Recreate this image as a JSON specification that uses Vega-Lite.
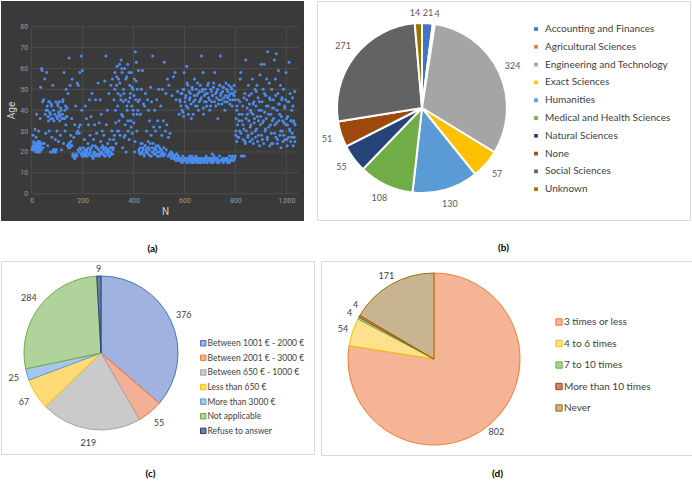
{
  "$schema": "https://vega.github.io/schema/vega-lite/v6.json",
  "padding": 0,
  "background": "white",
  "config": {"font": "Lato", "view": {"stroke": null}},
  "spacing": 3,
  "resolve": {"scale": {"color": "independent", "fill": "independent", "stroke": "independent", "theta": "independent", "x": "independent", "y": "independent"}, "legend": {"color": "independent", "fill": "independent", "stroke": "independent"}},
  "vconcat": [
    {
      "spacing": 12,
      "resolve": {"scale": {"color": "independent", "fill": "independent", "stroke": "independent", "theta": "independent", "x": "independent", "y": "independent"}, "legend": {"color": "independent", "fill": "independent", "stroke": "independent"}},
      "hconcat": [
        {
          "width": 303,
          "height": 220,
          "view": {"fill": "#3a3a3a", "stroke": null},
          "title": {"text": "(a)", "orient": "bottom", "offset": 23, "fontSize": 10, "fontWeight": "bold", "font": "Lato", "color": "#000000"},
          "layer": [
            {
              "data": {"values": [{"g": 0}, {"g": 10}, {"g": 20}, {"g": 30}, {"g": 40}, {"g": 50}, {"g": 60}, {"g": 70}, {"g": 80}]},
              "mark": {"type": "rule", "color": "#4c4c4c", "strokeWidth": 1},
              "encoding": {
                "y": {"field": "g", "type": "quantitative", "scale": {"domain": [-13.08, 92.31], "nice": false, "zero": false},
                  "axis": {"values": [0, 10, 20, 30, 40, 50, 60, 70, 80], "offset": -30.7, "grid": false, "ticks": false, "domain": false, "labelColor": "#9a9a9a", "labelFontSize": 7, "labelFont": "Roboto", "labelPadding": 4, "title": "Age", "titleColor": "#d0d0d0", "titleFontSize": 10, "titleFontWeight": "normal", "titleFont": "Roboto", "titleY": 109, "titlePadding": 3}},
                "x": {"datum": 0, "type": "quantitative", "scale": {"domain": [-120.6, 1069.5], "nice": false, "zero": false},
                  "axis": {"values": [0, 200, 400, 600, 800, 1000], "offset": -27.3, "grid": false, "ticks": false, "domain": false, "labelColor": "#9a9a9a", "labelFontSize": 7, "labelFont": "Roboto", "labelPadding": 3, "title": "N", "titleColor": "#d0d0d0", "titleFontSize": 10, "titleFontWeight": "normal", "titleFont": "Roboto", "titleX": 164, "titlePadding": 3}},
                "x2": {"datum": 1050}
              }
            },
            {
              "data": {"values": [{"v": 0}, {"v": 200}, {"v": 400}, {"v": 600}, {"v": 800}, {"v": 1000}]},
              "mark": {"type": "rule", "color": "#4c4c4c", "strokeWidth": 1},
              "encoding": {
                "x": {"field": "v", "type": "quantitative", "scale": {"domain": [-120.6, 1069.5], "nice": false, "zero": false},
                  "axis": {"values": [0, 200, 400, 600, 800, 1000], "offset": -27.3, "grid": false, "ticks": false, "domain": false, "labelColor": "#9a9a9a", "labelFontSize": 7, "labelFont": "Roboto", "labelPadding": 3, "title": "N", "titleColor": "#d0d0d0", "titleFontSize": 10, "titleFontWeight": "normal", "titleFont": "Roboto", "titleX": 164, "titlePadding": 3}},
                "y": {"datum": 0, "type": "quantitative", "scale": {"domain": [-13.08, 92.31], "nice": false, "zero": false},
                  "axis": {"values": [0, 10, 20, 30, 40, 50, 60, 70, 80], "offset": -30.7, "grid": false, "ticks": false, "domain": false, "labelColor": "#9a9a9a", "labelFontSize": 7, "labelFont": "Roboto", "labelPadding": 4, "title": "Age", "titleColor": "#d0d0d0", "titleFontSize": 10, "titleFontWeight": "normal", "titleFont": "Roboto", "titleY": 109, "titlePadding": 3}},
                "y2": {"datum": 80}
              }
            },
            {
              "data": {"values": [
{"n":1,"a":21},{"n":3,"a":22},{"n":5,"a":28},{"n":7,"a":21},{"n":9,"a":24},{"n":11,"a":23},{"n":13,"a":31},{"n":15,"a":22},{"n":17,"a":27},{"n":19,"a":38},
{"n":21,"a":22},{"n":23,"a":24},{"n":25,"a":20},{"n":27,"a":30},{"n":29,"a":23},{"n":31,"a":25},{"n":33,"a":36},{"n":35,"a":51},{"n":37,"a":22},{"n":39,"a":60},
{"n":41,"a":59},{"n":43,"a":44},{"n":45,"a":22},{"n":47,"a":45},{"n":49,"a":24},{"n":51,"a":55},{"n":53,"a":38},{"n":55,"a":29},{"n":57,"a":40},{"n":59,"a":58},
{"n":61,"a":42},{"n":63,"a":23},{"n":65,"a":37},{"n":67,"a":44},{"n":69,"a":30},{"n":71,"a":39},{"n":73,"a":20},{"n":75,"a":36},{"n":77,"a":43},{"n":79,"a":27},
{"n":81,"a":20},{"n":83,"a":52},{"n":85,"a":21},{"n":87,"a":35},{"n":89,"a":20},{"n":91,"a":38},{"n":93,"a":26},{"n":95,"a":44},{"n":97,"a":21},{"n":99,"a":30},
{"n":101,"a":36},{"n":103,"a":42},{"n":105,"a":25},{"n":107,"a":38},{"n":109,"a":44},{"n":111,"a":37},{"n":113,"a":28},{"n":115,"a":40},{"n":117,"a":21},{"n":119,"a":36},
{"n":121,"a":38},{"n":123,"a":45},{"n":125,"a":24},{"n":127,"a":58},{"n":129,"a":36},{"n":131,"a":30},{"n":133,"a":42},{"n":135,"a":50},{"n":137,"a":37},{"n":139,"a":41},
{"n":141,"a":23},{"n":143,"a":48},{"n":145,"a":22},{"n":147,"a":65},{"n":149,"a":24},{"n":151,"a":52},{"n":153,"a":28},{"n":155,"a":23},{"n":157,"a":36},{"n":159,"a":55},
{"n":161,"a":18},{"n":163,"a":19},{"n":165,"a":27},{"n":167,"a":17},{"n":169,"a":33},{"n":171,"a":18},{"n":173,"a":42},{"n":175,"a":19},{"n":177,"a":29},{"n":179,"a":53},
{"n":181,"a":30},{"n":183,"a":52},{"n":185,"a":32},{"n":187,"a":29},{"n":189,"a":58},{"n":191,"a":33},{"n":193,"a":21},{"n":195,"a":66},{"n":197,"a":40},{"n":199,"a":59},
{"n":201,"a":19},{"n":203,"a":22},{"n":205,"a":18},{"n":207,"a":26},{"n":209,"a":20},{"n":211,"a":42},{"n":213,"a":19},{"n":215,"a":36},{"n":217,"a":21},{"n":219,"a":18},
{"n":221,"a":24},{"n":223,"a":33},{"n":225,"a":19},{"n":227,"a":45},{"n":229,"a":28},{"n":231,"a":20},{"n":233,"a":37},{"n":235,"a":22},{"n":237,"a":48},{"n":239,"a":18},
{"n":241,"a":17},{"n":243,"a":26},{"n":245,"a":20},{"n":247,"a":33},{"n":249,"a":23},{"n":251,"a":45},{"n":253,"a":19},{"n":255,"a":29},{"n":257,"a":22},{"n":259,"a":18},
{"n":261,"a":53},{"n":263,"a":21},{"n":265,"a":34},{"n":267,"a":19},{"n":269,"a":45},{"n":271,"a":25},{"n":273,"a":38},{"n":275,"a":20},{"n":277,"a":30},{"n":279,"a":23},
{"n":281,"a":19},{"n":283,"a":28},{"n":285,"a":22},{"n":287,"a":54},{"n":289,"a":18},{"n":291,"a":66},{"n":293,"a":33},{"n":295,"a":21},{"n":297,"a":40},{"n":299,"a":24},
{"n":301,"a":20},{"n":303,"a":48},{"n":305,"a":18},{"n":307,"a":26},{"n":309,"a":22},{"n":311,"a":52},{"n":313,"a":19},{"n":315,"a":30},{"n":317,"a":55},{"n":319,"a":21},
{"n":321,"a":22},{"n":323,"a":45},{"n":325,"a":28},{"n":327,"a":58},{"n":329,"a":40},{"n":331,"a":24},{"n":333,"a":52},{"n":335,"a":61},{"n":337,"a":30},{"n":339,"a":48},
{"n":341,"a":55},{"n":343,"a":35},{"n":345,"a":62},{"n":347,"a":28},{"n":349,"a":47},{"n":351,"a":64},{"n":353,"a":38},{"n":355,"a":58},{"n":357,"a":22},{"n":359,"a":44},
{"n":361,"a":50},{"n":363,"a":27},{"n":365,"a":60},{"n":367,"a":33},{"n":369,"a":45},{"n":371,"a":20},{"n":373,"a":56},{"n":375,"a":40},{"n":377,"a":62},{"n":379,"a":30},
{"n":381,"a":44},{"n":383,"a":26},{"n":385,"a":52},{"n":387,"a":48},{"n":389,"a":35},{"n":391,"a":58},{"n":393,"a":42},{"n":395,"a":29},{"n":397,"a":50},{"n":399,"a":38},
{"n":401,"a":34},{"n":403,"a":55},{"n":405,"a":20},{"n":407,"a":68},{"n":409,"a":45},{"n":411,"a":63},{"n":413,"a":30},{"n":415,"a":50},{"n":417,"a":40},{"n":419,"a":59},
{"n":421,"a":21},{"n":423,"a":45},{"n":425,"a":19},{"n":427,"a":38},{"n":429,"a":24},{"n":431,"a":50},{"n":433,"a":20},{"n":435,"a":59},{"n":437,"a":22},{"n":439,"a":43},
{"n":441,"a":19},{"n":443,"a":42},{"n":445,"a":23},{"n":447,"a":48},{"n":449,"a":21},{"n":451,"a":30},{"n":453,"a":20},{"n":455,"a":45},{"n":457,"a":25},{"n":459,"a":40},
{"n":461,"a":22},{"n":463,"a":35},{"n":465,"a":18},{"n":467,"a":51},{"n":469,"a":28},{"n":471,"a":44},{"n":473,"a":20},{"n":475,"a":66},{"n":477,"a":24},{"n":479,"a":32},
{"n":481,"a":19},{"n":483,"a":40},{"n":485,"a":22},{"n":487,"a":30},{"n":489,"a":21},{"n":491,"a":45},{"n":493,"a":18},{"n":495,"a":35},{"n":497,"a":23},{"n":499,"a":50},
{"n":501,"a":20},{"n":503,"a":32},{"n":505,"a":18},{"n":507,"a":42},{"n":509,"a":21},{"n":511,"a":28},{"n":513,"a":50},{"n":515,"a":19},{"n":517,"a":35},{"n":519,"a":22},
{"n":521,"a":63},{"n":523,"a":19},{"n":525,"a":30},{"n":527,"a":48},{"n":529,"a":21},{"n":531,"a":33},{"n":533,"a":55},{"n":535,"a":18},{"n":537,"a":27},{"n":539,"a":52},
{"n":541,"a":18},{"n":543,"a":29},{"n":545,"a":19},{"n":547,"a":20},{"n":549,"a":17},{"n":551,"a":47},{"n":553,"a":19},{"n":555,"a":18},{"n":557,"a":56},{"n":559,"a":17},
{"n":561,"a":18},{"n":563,"a":58},{"n":565,"a":16},{"n":567,"a":45},{"n":569,"a":19},{"n":571,"a":17},{"n":573,"a":49},{"n":575,"a":18},{"n":577,"a":16},{"n":579,"a":38},
{"n":581,"a":17},{"n":583,"a":44},{"n":585,"a":16},{"n":587,"a":48},{"n":589,"a":15},{"n":591,"a":40},{"n":593,"a":18},{"n":595,"a":50},{"n":597,"a":37},{"n":599,"a":58},
{"n":601,"a":16},{"n":603,"a":46},{"n":605,"a":17},{"n":607,"a":42},{"n":609,"a":61},{"n":611,"a":15},{"n":613,"a":52},{"n":615,"a":38},{"n":617,"a":16},{"n":619,"a":45},
{"n":621,"a":17},{"n":623,"a":48},{"n":625,"a":16},{"n":627,"a":36},{"n":629,"a":18},{"n":631,"a":50},{"n":633,"a":15},{"n":635,"a":44},{"n":637,"a":17},{"n":639,"a":55},
{"n":641,"a":16},{"n":643,"a":42},{"n":645,"a":18},{"n":647,"a":47},{"n":649,"a":15},{"n":651,"a":53},{"n":653,"a":17},{"n":655,"a":40},{"n":657,"a":16},{"n":659,"a":49},
{"n":661,"a":15},{"n":663,"a":45},{"n":665,"a":17},{"n":667,"a":66},{"n":669,"a":16},{"n":671,"a":50},{"n":673,"a":58},{"n":675,"a":38},{"n":677,"a":17},{"n":679,"a":44},
{"n":681,"a":16},{"n":683,"a":48},{"n":685,"a":18},{"n":687,"a":42},{"n":689,"a":15},{"n":691,"a":52},{"n":693,"a":17},{"n":695,"a":46},{"n":697,"a":16},{"n":699,"a":40},
{"n":701,"a":17},{"n":703,"a":50},{"n":705,"a":16},{"n":707,"a":44},{"n":709,"a":19},{"n":711,"a":47},{"n":713,"a":15},{"n":715,"a":53},{"n":717,"a":17},{"n":719,"a":58},
{"n":721,"a":16},{"n":723,"a":42},{"n":725,"a":17},{"n":727,"a":49},{"n":729,"a":15},{"n":731,"a":36},{"n":733,"a":16},{"n":735,"a":45},{"n":737,"a":18},{"n":739,"a":52},
{"n":741,"a":66},{"n":743,"a":48},{"n":745,"a":16},{"n":747,"a":43},{"n":749,"a":17},{"n":751,"a":51},{"n":753,"a":15},{"n":755,"a":46},{"n":757,"a":16},{"n":759,"a":40},
{"n":761,"a":17},{"n":763,"a":53},{"n":765,"a":16},{"n":767,"a":44},{"n":769,"a":15},{"n":771,"a":49},{"n":773,"a":16},{"n":775,"a":47},{"n":777,"a":18},{"n":779,"a":45},
{"n":781,"a":16},{"n":783,"a":51},{"n":785,"a":17},{"n":787,"a":42},{"n":789,"a":18},{"n":791,"a":48},{"n":793,"a":16},{"n":795,"a":52},{"n":797,"a":17},{"n":799,"a":45},
{"n":801,"a":28},{"n":803,"a":36},{"n":805,"a":25},{"n":807,"a":42},{"n":809,"a":33},{"n":811,"a":45},{"n":813,"a":27},{"n":815,"a":38},{"n":817,"a":30},{"n":819,"a":55},
{"n":821,"a":58},{"n":823,"a":18},{"n":825,"a":35},{"n":827,"a":18},{"n":829,"a":42},{"n":831,"a":26},{"n":833,"a":31},{"n":835,"a":18},{"n":837,"a":48},{"n":839,"a":24},
{"n":841,"a":64},{"n":843,"a":30},{"n":845,"a":45},{"n":847,"a":38},{"n":849,"a":27},{"n":851,"a":52},{"n":853,"a":35},{"n":855,"a":43},{"n":857,"a":25},{"n":859,"a":40},
{"n":861,"a":33},{"n":863,"a":48},{"n":865,"a":29},{"n":867,"a":55},{"n":869,"a":38},{"n":871,"a":24},{"n":873,"a":44},{"n":875,"a":36},{"n":877,"a":50},{"n":879,"a":27},
{"n":881,"a":42},{"n":883,"a":31},{"n":885,"a":52},{"n":887,"a":25},{"n":889,"a":46},{"n":891,"a":35},{"n":893,"a":40},{"n":895,"a":23},{"n":897,"a":57},{"n":899,"a":37},
{"n":901,"a":62},{"n":903,"a":28},{"n":905,"a":44},{"n":907,"a":34},{"n":909,"a":50},{"n":911,"a":24},{"n":913,"a":62},{"n":915,"a":39},{"n":917,"a":30},{"n":919,"a":47},
{"n":921,"a":36},{"n":923,"a":55},{"n":925,"a":26},{"n":927,"a":68},{"n":929,"a":42},{"n":931,"a":32},{"n":933,"a":53},{"n":935,"a":23},{"n":937,"a":45},{"n":939,"a":38},
{"n":941,"a":29},{"n":943,"a":50},{"n":945,"a":35},{"n":947,"a":24},{"n":949,"a":45},{"n":951,"a":41},{"n":953,"a":64},{"n":955,"a":33},{"n":957,"a":55},{"n":959,"a":27},
{"n":961,"a":67},{"n":963,"a":40},{"n":965,"a":24},{"n":967,"a":48},{"n":969,"a":59},{"n":971,"a":35},{"n":973,"a":43},{"n":975,"a":28},{"n":977,"a":52},{"n":979,"a":22},
{"n":981,"a":37},{"n":983,"a":46},{"n":985,"a":30},{"n":987,"a":25},{"n":989,"a":50},{"n":991,"a":34},{"n":993,"a":42},{"n":995,"a":26},{"n":997,"a":45},{"n":999,"a":58},
{"n":1001,"a":36},{"n":1003,"a":23},{"n":1005,"a":33},{"n":1007,"a":44},{"n":1009,"a":27},{"n":1011,"a":63},{"n":1013,"a":31},{"n":1015,"a":48},{"n":1017,"a":25},{"n":1019,"a":35},
{"n":1021,"a":40},{"n":1023,"a":29},{"n":1025,"a":46},{"n":1027,"a":23},{"n":1029,"a":35},{"n":1031,"a":27},{"n":1033,"a":49},{"n":1035,"a":33},
{"n":2,"a":22},{"n":4,"a":21},{"n":6,"a":23},{"n":8,"a":25},{"n":10,"a":21},{"n":12,"a":22},{"n":14,"a":24},{"n":16,"a":20},{"n":18,"a":22},{"n":20,"a":23},
{"n":22,"a":21},{"n":24,"a":25},{"n":26,"a":22},{"n":28,"a":21},{"n":30,"a":24},{"n":32,"a":20},{"n":34,"a":23},{"n":36,"a":22},{"n":38,"a":21},{"n":40,"a":24},
{"n":62,"a":40},{"n":66,"a":35},{"n":70,"a":44},{"n":74,"a":38},{"n":78,"a":42},{"n":82,"a":36},{"n":86,"a":40},{"n":90,"a":21},{"n":94,"a":20},{"n":98,"a":37},
{"n":102,"a":43},{"n":106,"a":39},{"n":110,"a":35},{"n":114,"a":41},{"n":118,"a":38},{"n":122,"a":44},{"n":126,"a":36},{"n":130,"a":40},{"n":134,"a":33},{"n":138,"a":37},
{"n":142,"a":23},{"n":146,"a":24},{"n":150,"a":22},{"n":154,"a":25},{"n":158,"a":23},
{"n":162,"a":19},{"n":166,"a":18},{"n":170,"a":17},{"n":174,"a":19},{"n":178,"a":18},{"n":182,"a":21},{"n":186,"a":20},{"n":190,"a":22},{"n":194,"a":19},{"n":198,"a":18},
{"n":202,"a":20},{"n":206,"a":19},{"n":210,"a":21},{"n":214,"a":18},{"n":218,"a":20},{"n":222,"a":22},{"n":226,"a":19},{"n":230,"a":21},{"n":234,"a":18},{"n":238,"a":23},
{"n":242,"a":19},{"n":246,"a":20},{"n":250,"a":18},{"n":254,"a":22},{"n":258,"a":19},{"n":262,"a":21},{"n":266,"a":18},{"n":270,"a":20},{"n":274,"a":22},{"n":278,"a":19},
{"n":282,"a":21},{"n":286,"a":18},{"n":290,"a":20},{"n":294,"a":22},{"n":298,"a":19},{"n":302,"a":21},{"n":306,"a":18},{"n":310,"a":20},{"n":314,"a":22},{"n":318,"a":19},
{"n":322,"a":26},{"n":326,"a":50},{"n":330,"a":34},{"n":334,"a":56},{"n":338,"a":42},{"n":342,"a":30},{"n":346,"a":53},{"n":350,"a":45},{"n":354,"a":60},{"n":358,"a":37},
{"n":362,"a":48},{"n":366,"a":28},{"n":370,"a":55},{"n":374,"a":42},{"n":378,"a":35},{"n":382,"a":58},{"n":386,"a":46},{"n":390,"a":32},{"n":394,"a":51},{"n":398,"a":40},
{"n":402,"a":47},{"n":406,"a":25},{"n":410,"a":54},{"n":414,"a":38},{"n":418,"a":44},
{"n":422,"a":20},{"n":426,"a":22},{"n":430,"a":19},{"n":434,"a":24},{"n":438,"a":21},{"n":442,"a":18},{"n":446,"a":23},{"n":450,"a":20},{"n":454,"a":22},{"n":458,"a":19},
{"n":462,"a":21},{"n":466,"a":24},{"n":470,"a":18},{"n":474,"a":22},{"n":478,"a":20},{"n":482,"a":21},{"n":486,"a":19},{"n":490,"a":23},{"n":494,"a":20},{"n":498,"a":18},
{"n":502,"a":22},{"n":506,"a":21},{"n":510,"a":19},{"n":514,"a":20},{"n":518,"a":18},
{"n":540,"a":19},{"n":544,"a":18},{"n":548,"a":20},{"n":552,"a":19},{"n":556,"a":17},{"n":560,"a":18},{"n":564,"a":17},{"n":568,"a":19},{"n":572,"a":16},{"n":576,"a":18},
{"n":580,"a":17},{"n":584,"a":16},{"n":588,"a":17},{"n":592,"a":15},{"n":596,"a":16},{"n":600,"a":17},{"n":604,"a":16},{"n":608,"a":15},{"n":612,"a":17},{"n":616,"a":16},
{"n":620,"a":18},{"n":624,"a":15},{"n":628,"a":16},{"n":632,"a":17},{"n":636,"a":15},{"n":640,"a":16},{"n":644,"a":17},{"n":648,"a":16},{"n":652,"a":15},{"n":656,"a":17},
{"n":660,"a":16},{"n":664,"a":15},{"n":668,"a":17},{"n":672,"a":16},{"n":676,"a":15},{"n":680,"a":16},{"n":684,"a":17},{"n":688,"a":15},{"n":692,"a":16},{"n":696,"a":17},
{"n":700,"a":16},{"n":704,"a":15},{"n":708,"a":17},{"n":712,"a":16},{"n":716,"a":18},{"n":720,"a":16},{"n":728,"a":17},{"n":736,"a":15},{"n":744,"a":16},{"n":752,"a":16},
{"n":760,"a":16},{"n":768,"a":17},{"n":776,"a":15},{"n":784,"a":16},{"n":792,"a":16},{"n":800,"a":18},
{"n":582,"a":45},{"n":586,"a":42},{"n":590,"a":48},{"n":594,"a":39},{"n":598,"a":50},{"n":602,"a":44},{"n":606,"a":47},{"n":610,"a":53},{"n":614,"a":41},{"n":618,"a":49},
{"n":622,"a":46},{"n":626,"a":43},{"n":630,"a":51},{"n":634,"a":38},{"n":638,"a":47},{"n":642,"a":45},{"n":646,"a":50},{"n":650,"a":42},{"n":654,"a":48},{"n":658,"a":44},
{"n":662,"a":52},{"n":666,"a":46},{"n":670,"a":49},{"n":674,"a":41},{"n":678,"a":47},{"n":682,"a":50},{"n":686,"a":44},{"n":690,"a":48},{"n":694,"a":53},{"n":698,"a":45},
{"n":702,"a":42},{"n":706,"a":49},{"n":710,"a":47},{"n":714,"a":51},{"n":718,"a":44},{"n":722,"a":48},{"n":726,"a":46},{"n":730,"a":50},{"n":734,"a":43},{"n":738,"a":52},
{"n":742,"a":47},{"n":746,"a":45},{"n":750,"a":49},{"n":754,"a":51},{"n":758,"a":44},{"n":762,"a":47},{"n":766,"a":50},{"n":770,"a":46},{"n":774,"a":52},{"n":778,"a":43},
{"n":782,"a":48},{"n":786,"a":50},{"n":790,"a":45},{"n":794,"a":47},{"n":798,"a":49},
{"n":802,"a":30},{"n":806,"a":40},{"n":810,"a":27},{"n":814,"a":35},{"n":818,"a":44},{"n":822,"a":29},{"n":826,"a":38},{"n":830,"a":33},{"n":834,"a":46},{"n":838,"a":25},
{"n":842,"a":36},{"n":846,"a":41},{"n":850,"a":28},{"n":854,"a":47},{"n":858,"a":32},{"n":862,"a":39},{"n":866,"a":26},{"n":870,"a":43},{"n":874,"a":34},{"n":878,"a":30},
{"n":882,"a":49},{"n":886,"a":37},{"n":890,"a":28},{"n":894,"a":44},{"n":898,"a":33},{"n":902,"a":40},{"n":906,"a":26},{"n":910,"a":35},{"n":914,"a":48},{"n":918,"a":31},
{"n":922,"a":42},{"n":926,"a":27},{"n":930,"a":38},{"n":934,"a":46},{"n":938,"a":33},{"n":942,"a":24},{"n":946,"a":41},{"n":950,"a":36},{"n":954,"a":29},{"n":958,"a":47},
{"n":962,"a":34},{"n":966,"a":26},{"n":970,"a":43},{"n":974,"a":38},{"n":978,"a":30},{"n":982,"a":45},{"n":986,"a":35},{"n":990,"a":28},{"n":994,"a":41},{"n":998,"a":33},
{"n":1002,"a":26},{"n":1006,"a":37},{"n":1010,"a":44},{"n":1014,"a":30},{"n":1018,"a":35},{"n":1022,"a":27},{"n":1026,"a":42},{"n":1030,"a":34},{"n":1034,"a":25}
              ]},
              "mark": {"type": "point", "filled": true, "size": 9, "color": "#4a8cf0", "opacity": 1},
              "encoding": {
                "x": {"field": "n", "type": "quantitative", "scale": {"domain": [-120.6, 1069.5], "nice": false, "zero": false},
                  "axis": {"values": [0, 200, 400, 600, 800, 1000], "offset": -27.3, "grid": false, "ticks": false, "domain": false, "labelColor": "#9a9a9a", "labelFontSize": 7, "labelFont": "Roboto", "labelPadding": 3, "title": "N", "titleColor": "#d0d0d0", "titleFontSize": 10, "titleFontWeight": "normal", "titleFont": "Roboto", "titleX": 164, "titlePadding": 3}},
                "y": {"field": "a", "type": "quantitative", "scale": {"domain": [-13.08, 92.31], "nice": false, "zero": false},
                  "axis": {"values": [0, 10, 20, 30, 40, 50, 60, 70, 80], "offset": -30.7, "grid": false, "ticks": false, "domain": false, "labelColor": "#9a9a9a", "labelFontSize": 7, "labelFont": "Roboto", "labelPadding": 4, "title": "Age", "titleColor": "#d0d0d0", "titleFontSize": 10, "titleFontWeight": "normal", "titleFont": "Roboto", "titleY": 109, "titlePadding": 3}}
              }
            }
          ]
        },
        {
          "width": 373,
          "height": 219,
          "view": {"fill": "white", "stroke": "#d9d9d9", "strokeWidth": 1},
          "title": {"text": "(b)", "orient": "bottom", "offset": 23, "fontSize": 10, "fontWeight": "bold", "font": "Lato", "color": "#000000"},
          "data": {"values": [
            {"cat": "Accounting and Finances", "count": 21},
            {"cat": "Agricultural Sciences", "count": 4},
            {"cat": "Engineering and Technology", "count": 324},
            {"cat": "Exact Sciences", "count": 57},
            {"cat": "Humanities", "count": 130},
            {"cat": "Medical and Health Sciences", "count": 108},
            {"cat": "Natural Sciences", "count": 55},
            {"cat": "None", "count": 51},
            {"cat": "Social Sciences", "count": 271},
            {"cat": "Unknown", "count": 14}
          ]},
          "encoding": {
            "theta": {"field": "count", "type": "quantitative", "stack": true},
            "order": {"field": "cat", "type": "ordinal", "sort": "ascending"}
          },
          "layer": [
            {
              "mark": {"type": "arc", "outerRadius": 85, "x": 105, "y": 107, "stroke": "white", "strokeWidth": 2},
              "encoding": {
                "color": {"field": "cat", "type": "nominal",
                  "scale": {"range": ["#4472C4", "#ED7D31", "#A5A5A5", "#FFC000", "#5B9BD5", "#70AD47", "#264478", "#9E480E", "#636363", "#997300"]},
                  "legend": {"orient": "none", "legendX": 214, "legendY": 23, "title": null, "symbolType": "square", "symbolSize": 14, "labelFont": "Lato", "labelFontSize": 10, "labelColor": "#404040", "rowPadding": 7.8, "labelOffset": 4, "padding": 0, "symbolStrokeWidth": 0}}
              }
            },
            {
              "mark": {"type": "text", "radius": 100, "x": 105, "y": 107, "font": "Lato", "fontSize": 9, "color": "#595959"},
              "encoding": {"text": {"condition": {"test": "datum.count >= 25", "field": "count", "type": "quantitative"}, "value": ""}}
            },
            {
              "mark": {"type": "text", "radius": 95, "dx": -3, "x": 105, "y": 107, "font": "Lato", "fontSize": 9, "color": "#595959"},
              "encoding": {"text": {"condition": {"test": "datum.cat === 'Unknown'", "field": "count", "type": "quantitative"}, "value": ""}}
            },
            {
              "mark": {"type": "text", "radius": 95, "x": 105, "y": 107, "font": "Lato", "fontSize": 9, "color": "#595959"},
              "encoding": {"text": {"condition": {"test": "datum.cat === 'Accounting and Finances'", "field": "count", "type": "quantitative"}, "value": ""}}
            },
            {
              "mark": {"type": "text", "radius": 95, "dx": 2, "x": 105, "y": 107, "font": "Lato", "fontSize": 9, "color": "#595959"},
              "encoding": {"text": {"condition": {"test": "datum.cat === 'Agricultural Sciences'", "field": "count", "type": "quantitative"}, "value": ""}}
            }
          ]
        }
      ]
    },
    {
      "spacing": 5,
      "resolve": {"scale": {"color": "independent", "fill": "independent", "stroke": "independent", "theta": "independent", "x": "independent", "y": "independent"}, "legend": {"color": "independent", "fill": "independent", "stroke": "independent"}},
      "hconcat": [
        {
          "width": 313,
          "height": 193,
          "view": {"fill": "white", "stroke": "#d9d9d9", "strokeWidth": 1},
          "title": {"text": "(c)", "orient": "bottom", "offset": 15, "dx": -7, "fontSize": 10, "fontWeight": "bold", "font": "Lato", "color": "#000000"},
          "data": {"values": [
            {"cat": "Between 1001 € - 2000 €", "count": 376},
            {"cat": "Between 2001 € - 3000 €", "count": 55},
            {"cat": "Between 650 € - 1000 €", "count": 219},
            {"cat": "Less than 650 €", "count": 67},
            {"cat": "More than 3000 €", "count": 25},
            {"cat": "Not applicable", "count": 284},
            {"cat": "Refuse to answer", "count": 9}
          ]},
          "encoding": {
            "theta": {"field": "count", "type": "quantitative", "stack": true},
            "order": {"field": "cat", "type": "ordinal", "sort": "ascending"}
          },
          "layer": [
            {
              "mark": {"type": "arc", "outerRadius": 77, "x": 100, "y": 92, "strokeWidth": 1},
              "encoding": {
                "fill": {"field": "cat", "type": "nominal",
                  "scale": {"range": ["#A0B2E0", "#F4B096", "#CACACA", "#FFDA75", "#A6C6EC", "#AFD39A", "#6A7EA6"]},
                  "legend": {"orient": "none", "legendX": 198, "legendY": 78, "title": null, "symbolType": "square", "symbolSize": 30, "labelFont": "Lato", "labelFontSize": 8.5, "labelColor": "#404040", "rowPadding": 4.6, "labelOffset": 0, "padding": 0, "symbolStrokeWidth": 1}},
                "stroke": {"field": "cat", "type": "nominal",
                  "scale": {"range": ["#4472C4", "#ED7D31", "#A5A5A5", "#FFC000", "#5B9BD5", "#70AD47", "#264478"]},
                  "legend": {"orient": "none", "legendX": 198, "legendY": 78, "title": null, "symbolType": "square", "symbolSize": 30, "labelFont": "Lato", "labelFontSize": 8.5, "labelColor": "#404040", "rowPadding": 4.6, "labelOffset": 0, "padding": 0, "symbolStrokeWidth": 1}}
              }
            },
            {
              "mark": {"type": "text", "radius": 91, "x": 100, "y": 92, "font": "Lato", "fontSize": 9, "color": "#404040"},
              "encoding": {"text": {"condition": {"test": "datum.cat !== 'Refuse to answer'", "field": "count", "type": "quantitative"}, "value": ""}}
            },
            {
              "mark": {"type": "text", "radius": 84, "x": 100, "y": 92, "font": "Lato", "fontSize": 9, "color": "#404040"},
              "encoding": {"text": {"condition": {"test": "datum.cat === 'Refuse to answer'", "field": "count", "type": "quantitative"}, "value": ""}}
            }
          ]
        },
        {
          "width": 373,
          "height": 194,
          "view": {"fill": "white", "stroke": "#d9d9d9", "strokeWidth": 1},
          "title": {"text": "(d)", "orient": "bottom", "offset": 14, "dx": -10, "fontSize": 10, "fontWeight": "bold", "font": "Lato", "color": "#000000"},
          "data": {"values": [
            {"cat": "3 times or less", "count": 802},
            {"cat": "4 to 6 times", "count": 54},
            {"cat": "7 to 10 times", "count": 4},
            {"cat": "More than 10 times", "count": 4},
            {"cat": "Never", "count": 171}
          ]},
          "encoding": {
            "theta": {"field": "count", "type": "quantitative", "stack": true},
            "order": {"field": "cat", "type": "ordinal", "sort": "ascending"}
          },
          "layer": [
            {
              "mark": {"type": "arc", "outerRadius": 86, "x": 113, "y": 98, "strokeWidth": 1},
              "encoding": {
                "fill": {"field": "cat", "type": "nominal",
                  "scale": {"range": ["#F5B496", "#FFE08C", "#A9D18E", "#C8866A", "#C8B491"]},
                  "legend": {"orient": "none", "legendX": 233, "legendY": 56, "title": null, "symbolType": "square", "symbolSize": 40, "labelFont": "Lato", "labelFontSize": 10, "labelColor": "#404040", "rowPadding": 9.5, "labelOffset": 0, "padding": 0, "symbolStrokeWidth": 1}},
                "stroke": {"field": "cat", "type": "nominal",
                  "scale": {"range": ["#ED7D31", "#FFC000", "#70AD47", "#9E480E", "#997300"]},
                  "legend": {"orient": "none", "legendX": 233, "legendY": 56, "title": null, "symbolType": "square", "symbolSize": 40, "labelFont": "Lato", "labelFontSize": 10, "labelColor": "#404040", "rowPadding": 9.5, "labelOffset": 0, "padding": 0, "symbolStrokeWidth": 1}}
              }
            },
            {
              "mark": {"type": "text", "radius": 96, "x": 113, "y": 98, "font": "Lato", "fontSize": 9, "color": "#404040"},
              "encoding": {"text": {"condition": {"test": "datum.cat !== 'More than 10 times'", "field": "count", "type": "quantitative"}, "value": ""}}
            },
            {
              "mark": {"type": "text", "radius": 96, "dx": 5, "dy": -6, "x": 113, "y": 98, "font": "Lato", "fontSize": 9, "color": "#404040"},
              "encoding": {"text": {"condition": {"test": "datum.cat === 'More than 10 times'", "field": "count", "type": "quantitative"}, "value": ""}}
            }
          ]
        }
      ]
    }
  ]
}
